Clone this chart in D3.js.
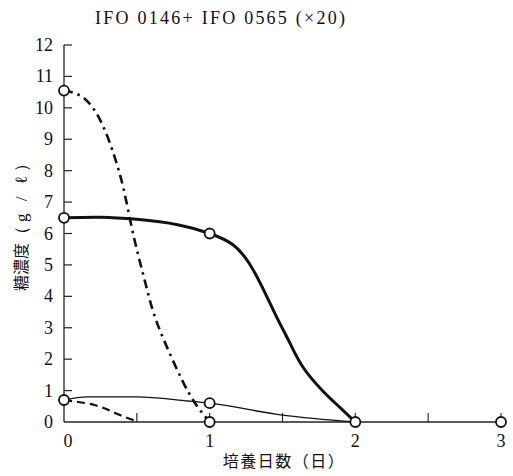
<!DOCTYPE html>
<html>
<head>
<meta charset="utf-8">
<script src="https://cdn.jsdelivr.net/npm/d3@7"></script>
<style>
  html, body { margin: 0; padding: 0; background: #fff; }
  svg { display: block; }
</style>
</head>
<body>
<svg id="chart" width="513" height="476"></svg>
<script>
// Sugar concentration (g/ℓ) against culture days
const title = "IFO 0146+ IFO 0565 (×20)";
const xLabel = "培養日数（日）";
const yLabelMain = "糖濃度";
const yLabelUnit = "（g / ℓ）";

const xTicks = [0, 1, 2, 3];
const xMinorTicks = [0.5, 1, 1.5, 2, 2.5, 3];
const yTicks = [0, 1, 2, 3, 4, 5, 6, 7, 8, 9, 10, 11, 12];

// Measured points (circles)
const measured = [
  [0, 10.55], [0, 6.5], [0, 0.7],
  [1, 6.0], [1, 0.6], [1, 0],
  [2, 0], [3, 0]
];

// Hand-drawn curves through the measurements
const thickSolid = [[0, 6.5], [0.25, 6.52], [0.5, 6.45], [0.78, 6.28], [1, 6.0],
  [1.16, 5.64], [1.27, 5.06], [1.36, 4.3], [1.46, 3.34], [1.55, 2.52],
  [1.64, 1.75], [1.77, 1.02], [1.89, 0.48], [2, 0]];
const dashDot = [[0, 10.55], [0.14, 10.3], [0.26, 9.5], [0.35, 8.4], [0.41, 7.4],
  [0.46, 6.3], [0.51, 5.3], [0.56, 4.4], [0.62, 3.4], [0.71, 2.35],
  [0.81, 1.34], [0.9, 0.6], [1, 0]];
const thinSolid = [[0, 0.7], [0.16, 0.8], [0.5, 0.8], [0.85, 0.67], [1, 0.6],
  [1.5, 0.22], [2, 0]];
const dashed = [[0, 0.7], [0.21, 0.54], [0.35, 0.29], [0.48, 0.05]];

const SERIF = "'Liberation Serif', 'DejaVu Serif', serif";
const CJK = "'Noto Sans CJK JP', 'Noto Sans', sans-serif";

const svg = d3.select("#chart");
const x = d3.scaleLinear().domain([0, 3]).range([64, 501]);
const y = d3.scaleLinear().domain([0, 12]).range([422, 45]);

// Axes
const axisColor = "#222";
svg.append("line").attr("x1", x(0)).attr("x2", 505).attr("y1", y(0)).attr("y2", y(0))
  .attr("stroke", axisColor).attr("stroke-width", 1.3);
svg.append("line").attr("x1", x(0)).attr("x2", x(0)).attr("y1", y(0)).attr("y2", y(12))
  .attr("stroke", axisColor).attr("stroke-width", 1.3);

svg.selectAll(".ytick").data(yTicks.filter(d => d > 0)).join("line")
  .attr("x1", x(0)).attr("x2", x(0) + 8)
  .attr("y1", d => y(d)).attr("y2", d => y(d))
  .attr("stroke", axisColor).attr("stroke-width", 1.2);

svg.selectAll(".xtick").data(xMinorTicks).join("line")
  .attr("x1", d => x(d)).attr("x2", d => x(d))
  .attr("y1", y(0)).attr("y2", y(0) - 9)
  .attr("stroke", axisColor).attr("stroke-width", 1.1);

svg.selectAll(".ylab").data(yTicks).join("text")
  .attr("font-family", SERIF)
  .attr("x", 53).attr("y", d => y(d) + 6)
  .attr("text-anchor", "end").attr("font-size", 18).attr("fill", "#111")
  .text(d => d);

svg.selectAll(".xlab").data(xTicks).join("text")
  .attr("font-family", SERIF)
  .attr("x", d => x(d) + (d === 0 ? 4 : 0)).attr("y", 447)
  .attr("text-anchor", "middle").attr("font-size", 18).attr("fill", "#111")
  .text(d => d);

// Titles
svg.append("text").attr("font-family", SERIF)
  .attr("x", 95).attr("y", 24).attr("font-size", 18).attr("fill", "#111")
  .attr("textLength", 250).attr("lengthAdjust", "spacing")
  .text(title);

svg.append("text").attr("font-family", CJK)
  .attr("x", 284).attr("y", 467).attr("text-anchor", "middle")
  .attr("font-size", 16).attr("fill", "#111")
  .attr("letter-spacing", 1.5)
  .text(xLabel);

const yl = svg.append("text")
  .attr("transform", "translate(27,221) rotate(-90)")
  .attr("text-anchor", "middle").attr("font-size", 16).attr("fill", "#111");
yl.append("tspan").attr("font-family", CJK).text(yLabelMain);
yl.append("tspan").attr("font-family", SERIF).attr("font-size", 17)
  .attr("letter-spacing", 4).text(yLabelUnit);

// Curves
const line = d3.line().x(d => x(d[0])).y(d => y(d[1])).curve(d3.curveNatural);
const lineMono = d3.line().x(d => x(d[0])).y(d => y(d[1])).curve(d3.curveMonotoneX);

svg.append("path").attr("d", line(thickSolid)).attr("fill", "none")
  .attr("stroke", "#111").attr("stroke-width", 3);
svg.append("path").attr("d", line(dashDot)).attr("fill", "none")
  .attr("stroke", "#111").attr("stroke-width", 2.6)
  .attr("stroke-dasharray", "9,5,2.5,5");
svg.append("path").attr("d", lineMono(thinSolid)).attr("fill", "none")
  .attr("stroke", "#111").attr("stroke-width", 1.4);
svg.append("path").attr("d", line(dashed)).attr("fill", "none")
  .attr("stroke", "#111").attr("stroke-width", 2.2)
  .attr("stroke-dasharray", "8,5");

// Measurement markers
svg.selectAll(".pt").data(measured).join("circle")
  .attr("cx", d => x(d[0])).attr("cy", d => y(d[1])).attr("r", 5)
  .attr("fill", "#fff").attr("stroke", "#111").attr("stroke-width", 1.8);
</script>
</body>
</html>
